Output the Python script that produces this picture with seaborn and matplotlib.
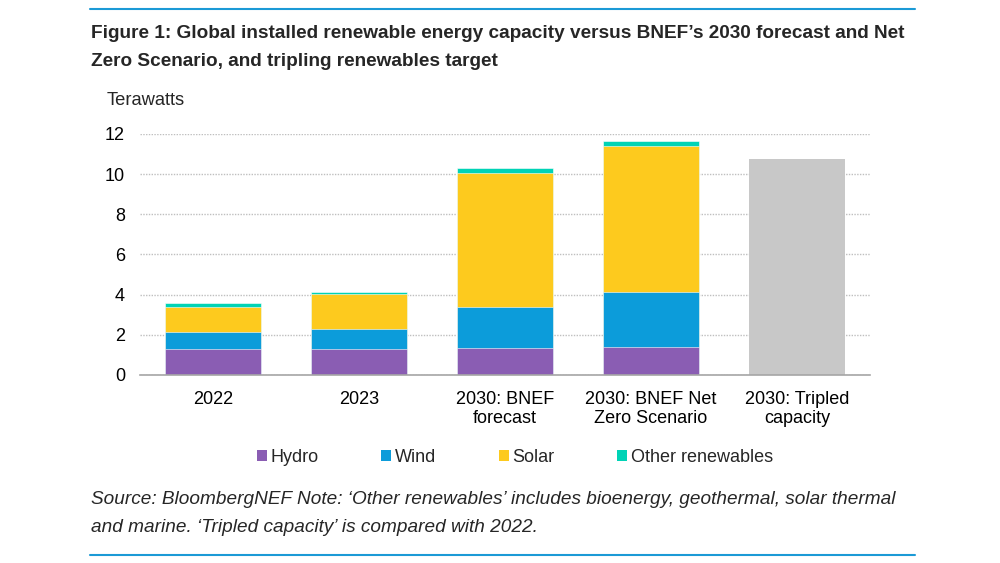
import pandas as pd
import numpy as np
import seaborn as sns
import matplotlib.pyplot as plt
from matplotlib.patches import Patch

# Values (terawatts)
categories = ['2022', '2023', '2030: BNEF\nforecast', '2030: BNEF Net\nZero Scenario', '2030: Tripled\ncapacity']
hydro = [1.28, 1.28, 1.33, 1.41, 0.0]
wind = [0.86, 1.00, 2.07, 2.73, 0.0]
solar = [1.26, 1.74, 6.68, 7.24, 0.0]
other = [0.17, 0.13, 0.24, 0.27, 0.0]
tripled = [0.0, 0.0, 0.0, 0.0, 10.77]

series_names = ['Hydro', 'Wind', 'Solar', 'Other renewables']
colors = {'Hydro': '#8A5DB3', 'Wind': '#0C9CDA', 'Solar': '#FDCA1E', 'Other renewables': '#00D3B6'}
tripled_color = '#C8C8C8'

sns.set_theme(style='white')
plt.rcParams['font.family'] = ['Liberation Sans', 'DejaVu Sans']

df = pd.DataFrame({'category': categories, 'Hydro': hydro, 'Wind': wind,
                   'Solar': solar, 'Other renewables': other, 'Tripled': tripled})

# cumulative heights so that layers can be drawn top-down
cum = df[series_names].cumsum(axis=1)

fig = plt.figure(figsize=(10, 5.63), dpi=100)
ax = fig.add_axes([0.14, 0.334, 0.73, 0.428])

sns.barplot(data=df, x='category', y='Tripled', color=tripled_color, width=0.66,
            saturation=1, linewidth=0, order=categories, ax=ax)
for name in reversed(series_names):
    sns.barplot(x=df['category'], y=cum[name], color=colors[name], width=0.66,
                saturation=1, edgecolor='white', linewidth=0.4, order=categories, ax=ax)

ax.set_ylim(0, 12)
ax.set_xlim(-0.5, 4.5)
ax.set_yticks(range(0, 13, 2))
ax.yaxis.grid(True, linestyle=(0, (1, 1)), color='#BFBFBF', linewidth=1)
ax.set_axisbelow(True)
ax.set_xlabel('')
ax.set_ylabel('')

for side in ['left', 'right', 'top']:
    ax.spines[side].set_visible(False)
ax.spines['bottom'].set_color('#A6A6A6')
ax.spines['bottom'].set_linewidth(1.2)

ax.tick_params(axis='y', length=0, labelsize=13, pad=10.8, colors='black')
ax.tick_params(axis='x', which='major', length=0, labelsize=13, pad=11.5, colors='black')
ax.set_xticks(np.arange(-0.5, 5.0, 1.0), minor=True)
ax.tick_params(axis='x', which='minor', length=5, width=1.2, color='#A6A6A6', direction='out')
for lbl in ax.get_xticklabels():
    lbl.set_linespacing(1.15)

# header / footer
fig.text(0.091, 0.956, 'Figure 1: Global installed renewable energy capacity versus BNEF\u2019s 2030 forecast and Net\n'
         'Zero Scenario, and tripling renewables target', fontsize=13.7, fontweight='bold',
         va='top', ha='left', linespacing=1.87)
fig.text(0.107, 0.822, 'Terawatts', fontsize=13.2, va='center', ha='left')
fig.text(0.091, 0.0876, 'Source: BloombergNEF Note: \u2018Other renewables\u2019 includes bioenergy, geothermal, solar thermal\n'
         'and marine. \u2018Tripled capacity\u2019 is compared with 2022.', fontsize=13.7, style='italic',
         va='center', ha='left', linespacing=1.8)

line_color = '#1B9AD6'
fig.add_artist(plt.Line2D([0.09, 0.915], [0.984, 0.984], color=line_color, linewidth=1.5))
fig.add_artist(plt.Line2D([0.09, 0.915], [0.014, 0.014], color=line_color, linewidth=1.5))

handles = [Patch(facecolor=colors[n], edgecolor='none', label=n) for n in series_names]
fig.legend(handles=handles, loc='center', bbox_to_anchor=(0.515, 0.188), ncol=4, frameon=False,
           fontsize=13, handlelength=0.55, handleheight=0.55, handletextpad=0.2, columnspacing=3.47)

fig.savefig('out.png', dpi=100)
